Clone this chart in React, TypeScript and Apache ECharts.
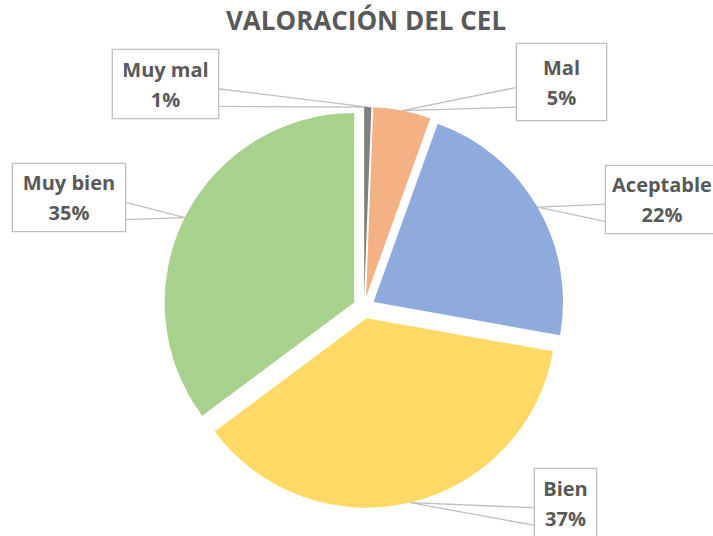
import React, { useEffect, useRef } from 'react';
import * as echarts from 'echarts';

const titleText = 'VALORACIÓN DEL CEL';
const categories = ['Muy mal', 'Mal', 'Aceptable', 'Bien', 'Muy bien'];
const values = [0.6, 4.9, 22.3, 37.0, 35.2];
const colors = ['#7f7f7f', '#f4b183', '#8faadc', '#ffd966', '#a9d18e'];

// Callout boxes (layout only): left, top, width, height, side where the leader attaches
const boxes: Record<string, { left: number; top: number; w: number; h: number; side: 'left' | 'right' }> = {
  'Muy mal': { left: 113, top: 50, w: 105, h: 68, side: 'right' },
  'Mal': { left: 517, top: 44, w: 89, h: 76, side: 'left' },
  'Aceptable': { left: 606, top: 166, w: 112, h: 67, side: 'left' },
  'Bien': { left: 535, top: 469, w: 61, h: 68, side: 'left' },
  'Muy bien': { left: 13, top: 164, w: 112, h: 67, side: 'right' },
};

const CX = 364;
const CY = 307.5;
const R = 189.5;
const EXPLODE = 11;
const LINE_H = 30;

export default function App() {
  const ref = useRef<HTMLDivElement>(null);
  useEffect(() => {
    const chart = echarts.init(ref.current!, null, { renderer: 'svg' });
    const total = values.reduce((a, b) => a + b, 0);
    const mids: number[] = [];
    let acc = 0;
    values.forEach((v) => {
      mids.push(((acc + v / 2) / total) * Math.PI * 2);
      acc += v;
    });
    const series = categories.map((name, i) => {
      const sx = CX + Math.sin(mids[i]) * EXPLODE;
      const sy = CY - Math.cos(mids[i]) * EXPLODE;
      const box = boxes[name];
      const pv = (box.h - 2 * LINE_H) / 2;
      return {
        type: 'pie',
        name,
        center: [sx, sy],
        radius: R,
        startAngle: 90,
        clockwise: true,
        percentPrecision: 0,
        avoidLabelOverlap: false,
        silent: true,
        emphasis: { disabled: true },
        data: categories.map((c, j) => ({
          name: c,
          value: values[j],
          itemStyle: { color: j === i ? colors[j] : 'rgba(0,0,0,0)', borderWidth: 0 },
          label: j === i ? { show: true, width: box.w, padding: [pv, 0, pv, 0] } : { show: false },
          labelLine: { show: j === i },
        })),
        label: {
          position: 'outside',
          formatter: '{b}\n{d}%',
          fontFamily: 'Open Sans',
          fontWeight: 'bold',
          fontSize: 20,
          lineHeight: LINE_H,
          color: '#595959',
          align: 'center',
          overflow: 'none',
          backgroundColor: '#ffffff',
          borderColor: '#bfbfbf',
          borderWidth: 1.3,
        },
        labelLine: {
          show: true,
          smooth: false,
          length: 10,
          length2: 10,
          lineStyle: { color: '#bfbfbf', width: 1.3 },
        },
        labelLayout: (p: any) => {
          if (p.dataIndex !== i) return {};
          const tip = [sx + R * Math.sin(mids[i]), sy - R * Math.cos(mids[i])];
          const ex = box.side === 'right' ? box.left + box.w : box.left;
          return {
            x: box.left + box.w / 2,
            y: box.top,
            align: 'center',
            verticalAlign: 'top',
            labelLinePoints: [
              [ex, box.top + 0.57 * box.h],
              tip,
              [ex, box.top + 0.83 * box.h],
            ],
          };
        },
      };
    });
    chart.setOption({
      animation: false,
      backgroundColor: '#ffffff',
      title: {
        text: titleText,
        left: 361,
        top: 2,
        textAlign: 'center',
        textStyle: {
          fontFamily: 'Open Sans',
          fontWeight: 'bold',
          fontSize: 26,
          color: '#595959',
        },
      },
      series,
    });
    return () => chart.dispose();
  }, []);
  return (
    <div
      ref={ref}
      style={{ position: 'absolute', left: 0, top: 0, width: 713, height: 536 }}
    />
  );
}
